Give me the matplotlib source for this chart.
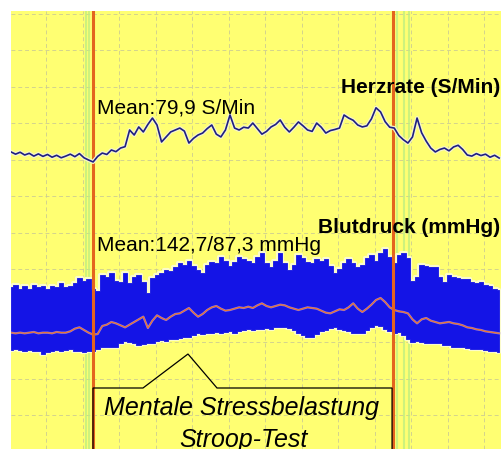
import numpy as np
import matplotlib
matplotlib.use("Agg")
import matplotlib.pyplot as plt
from matplotlib.patches import Polygon

# ---------------- data ----------------
dt_min = 0.125  # sampling interval (minutes)

heart_rate = [75.1, 74.3, 75.0, 74.0, 74.6, 73.6, 74.4, 73.5, 74.2, 73.2,
              73.9, 73.0, 73.6, 74.3, 73.4, 74.5, 73.0, 72.2, 71.5, 73.5,
              74.7, 74.2, 75.8, 75.2, 76.5, 77.0, 83.0, 81.2, 84.1, 82.3,
              85.0, 87.3, 84.8, 78.7, 80.5, 82.3, 83.0, 83.7, 82.6, 78.3,
              80.0, 81.2, 81.9, 83.5, 84.8, 81.5, 80.5, 83.0, 88.4, 83.7,
              83.0, 84.0, 83.7, 85.5, 83.5, 81.5, 82.5, 84.1, 85.0, 86.6,
              84.0, 82.3, 84.0, 85.9, 84.5, 83.0, 82.5, 85.5, 84.0, 81.9,
              82.8, 83.2, 83.7, 88.4, 87.3, 86.5, 84.8, 84.1, 84.5, 87.0,
              91.0, 89.5, 86.0, 84.0, 83.7, 81.0, 79.5, 78.3, 80.5, 87.3,
              82.0, 79.0, 76.5, 75.1, 76.0, 76.5, 75.5, 76.9, 77.5, 76.0,
              74.0, 73.6, 74.5, 73.8, 74.3, 73.2, 73.9, 72.9]

systolic = [132, 134, 131, 133, 131, 134, 132, 133, 131, 133,
            132, 135, 132, 133, 135, 139, 137, 138, 131, 129,
            141, 140, 143, 137, 136, 143, 135, 140, 141, 136,
            128, 139, 141, 143, 145, 144, 147, 150, 149, 152,
            148, 145, 143, 149, 151, 150, 155, 152, 148, 151,
            155, 153, 152, 150, 155, 158, 150, 147, 152, 158,
            150, 145, 149, 156, 154, 151, 150, 153, 152, 153,
            148, 143, 146, 150, 153, 150, 147, 149, 154, 156,
            152, 158, 161, 155, 150, 156, 158, 154, 137, 140,
            149, 148, 147, 147, 140, 136, 141, 140, 139, 138,
            138, 136, 135, 136, 134, 133, 131, 130]

diastolic = [85, 85.5, 85, 84.5, 85, 84.5, 84, 82, 83.5, 84.5,
             85, 84.5, 85, 85.5, 84.5, 84, 83.5, 84, 84.5, 86,
             87, 87.5, 87, 87.5, 90, 92, 91, 90, 89, 89.5,
             90.5, 90, 91.5, 92.5, 92, 93, 93.5, 94, 94.5, 95,
             96, 97.5, 97, 97.5, 98, 98.5, 98, 98.5, 99, 98,
             99, 100, 101, 100, 100.5, 101, 101.5, 101, 102, 102,
             102.5, 101.5, 100, 98, 96, 95, 95, 97, 99, 100,
             101.5, 102, 101, 100, 99, 98, 97.5, 98, 100, 102,
             103.5, 103, 101, 99, 98, 98.5, 96, 93, 91, 91.5,
             91, 90.5, 90, 90.5, 90, 89, 88.5, 87.5, 87, 87,
             86.5, 86, 86, 85.5, 85, 84.5, 84, 83.5]

mean_pressure = [98, 97.5, 98, 97.5, 98, 98.5, 97.5, 98, 98, 97.5,
                 98.5, 98, 98, 99, 101, 102, 100, 98, 96.5, 97,
                 103, 104, 106, 105, 103.5, 102, 104, 106, 108, 110,
                 101.5, 107, 111, 109, 107.5, 110, 112, 112.5, 114.5, 116.5,
                 113, 110, 112, 115, 117, 118, 116, 114.5, 115, 116,
                 117, 116.5, 117.5, 116.5, 118.5, 120, 118, 117, 118, 119,
                 118.5, 117, 116, 115, 116, 117, 116.5, 116, 114.5, 113,
                 112.5, 114, 115.5, 115, 117, 120, 116, 113.5, 116, 119,
                 122.5, 124, 121, 117, 115, 114, 113.5, 112.5, 108, 105,
                 108, 109, 107, 106, 105, 105.5, 106, 105, 104.5, 103.5,
                 102, 101.5, 100.5, 100, 99, 98.5, 98, 97.5]

stroop_start, stroop_end = 2.247, 10.466   # minutes
hr_label = "Herzrate (S/Min)"
bp_label = "Blutdruck (mmHg)"
hr_mean_label = "Mean:79,9 S/Min"
bp_mean_label = "Mean:142,7/87,3 mmHg"
task_lines = ["Mentale Stressbelastung", "Stroop-Test"]

t = np.arange(len(heart_rate)) * dt_min

# ---------------- style ----------------
plt.rcParams['font.family'] = ['Liberation Sans', 'DejaVu Sans']
BG = '#ffff72'
W, H = 501, 449
fig = plt.figure(figsize=(W / 100, H / 100), dpi=100)
ax = fig.add_axes([11 / W, 0, 490 / W, 438 / H])
ax2 = ax.twinx()
ax.set_facecolor(BG)
ax.set_xlim(0, 490 / 36.5)
ax.set_ylim(10.75, 339.25)            # blood pressure scale (mmHg)
for s in ax.spines.values():
    s.set_visible(False)

# grid
ax.set_xticks(0.959 + np.arange(0, 13))
ax.set_yticks(145.4 + 27.375 * np.arange(-4, 8))
ax.grid(True, color='#cbcb92', lw=0.7, ls=(0, (4, 3)), alpha=0.85)
ax.set_axisbelow(True)
ax.tick_params(left=False, right=False, bottom=False, top=False,
               labelleft=False, labelbottom=False, labelright=False)

# event markers
for x0, offs in ((stroop_start, (-0.2, -0.12)), (stroop_end, (0.12, 0.3, 0.45))):
    for o in offs:
        ax.axvline(x0 + o, color='#bdee80', lw=1.5, alpha=0.75, zorder=1)
    ax.axvline(x0, color='#e4641e', lw=2.2, zorder=5)

# blood pressure band
ax.fill_between(t, diastolic, systolic, step='mid', facecolor='none',
                edgecolor='#fbfbcc', lw=3.0, zorder=2)
ax.fill_between(t, diastolic, systolic, step='mid', color='#1414e6', lw=0.6,
                edgecolor='#1414e6', zorder=3)
ax.plot(t, mean_pressure, color='#b090e0', lw=1.6, alpha=0.8, zorder=4)
ax.plot(t, mean_pressure, color='#ee7424', lw=0.8, zorder=4)

# heart rate
ax2.set_ylim(-31.84, 125.84)
ax2.axis('off')
ax2.plot(t, heart_rate, color='#f6f6c8', lw=3.0, zorder=2)
ax2.plot(t, heart_rate, color='#1e1e84', lw=1.2, zorder=3)

# callout box (in blood-pressure units)
box = [(stroop_start, -5), (stroop_start, 56.5), (3.616, 56.5), (4.849, 82),
       (5.644, 56.5), (10.44, 56.5), (10.44, -5)]
ax.add_patch(Polygon(box, closed=False, facecolor='none', edgecolor='black',
                     lw=0.9, zorder=6))

# texts
fig.text(97 / W, (H - 113) / H, hr_mean_label, fontsize=15, va='baseline')
fig.text(0.999, (H - 93) / H, hr_label, fontsize=15, fontweight='bold',
         ha='right', va='baseline')
fig.text(97 / W, (H - 251) / H, bp_mean_label, fontsize=15, va='baseline')
fig.text(0.999, (H - 233) / H, bp_label, fontsize=15, fontweight='bold',
         ha='right', va='baseline')
fig.text(242 / W, (H - 415) / H, task_lines[0], fontsize=18, style='italic',
         ha='center', va='baseline')
fig.text(243 / W, (H - 447) / H, task_lines[1], fontsize=18, style='italic',
         ha='center', va='baseline')

fig.savefig('out.png', dpi=100, facecolor='white')
